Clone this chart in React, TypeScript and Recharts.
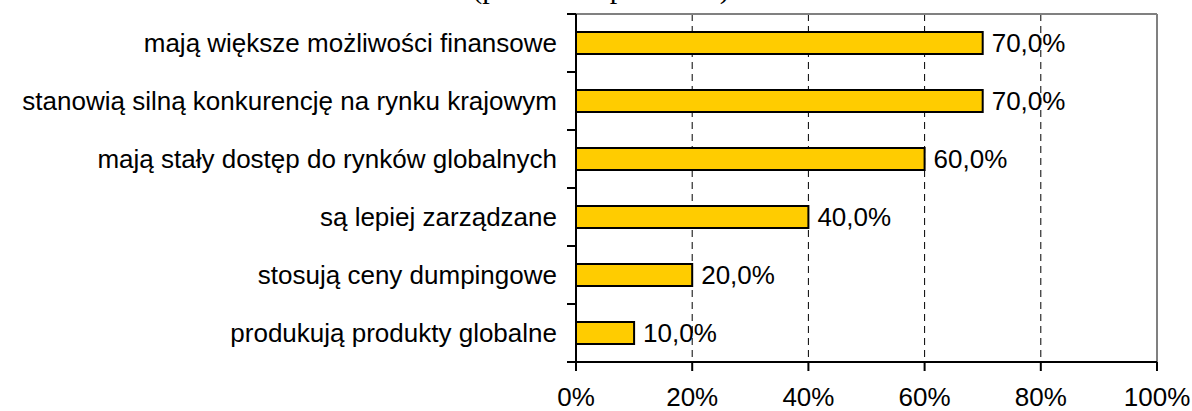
import { Bar, BarChart, CartesianGrid, LabelList, ReferenceLine, XAxis, YAxis } from "recharts";

const categories = [
  "mają większe możliwości finansowe",
  "stanowią silną konkurencję na rynku krajowym",
  "mają stały dostęp do rynków globalnych",
  "są lepiej zarządzane",
  "stosują ceny dumpingowe",
  "produkują produkty globalne",
];
const shares = [70, 70, 60, 40, 20, 10];
const xTicks = [0, 20, 40, 60, 80, 100];
const title = "(procent odpowiedzi)";

const data = categories.map((name, i) => ({ name, value: shares[i] }));

const W = 1192;
const H = 411;
const PLOT_LEFT = 576;
const PLOT_TOP = 14;
const PLOT_BOTTOM = 362;
const BAND = (PLOT_BOTTOM - PLOT_TOP) / categories.length;
const FONT = "'Liberation Sans', Arial, sans-serif";
const FS = 26;

function CategoryTick(props: any) {
  const { y, payload, index } = props;
  return (
    <g>
      <line x1={PLOT_LEFT - 9} x2={PLOT_LEFT} y1={y - BAND / 2} y2={y - BAND / 2} stroke="#000" strokeWidth={2} />
      {index === categories.length - 1 && (
        <line x1={PLOT_LEFT - 9} x2={PLOT_LEFT} y1={y + BAND / 2} y2={y + BAND / 2} stroke="#000" strokeWidth={2} />
      )}
      <text x={PLOT_LEFT - 19} y={y} dy="0.36em" textAnchor="end" fontSize={FS} fontFamily={FONT} fill="#000">
        {payload.value}
      </text>
    </g>
  );
}

export default function App() {
  return (
    <div style={{ position: "absolute", left: 0, top: 0, width: W, height: H, background: "#fff", overflow: "hidden" }}>
      <svg width={W} height={H} style={{ position: "absolute", left: 0, top: 0, pointerEvents: "none" }}>
        <text x={601} y={-2} textAnchor="middle" fontSize={30} fontFamily="'Liberation Serif', 'Times New Roman', serif" fill="#000">
          {title}
        </text>
      </svg>
      <BarChart
        width={W}
        height={H}
        data={data}
        layout="vertical"
        margin={{ top: PLOT_TOP, right: 35, bottom: 0, left: 0 }}
      >
        <CartesianGrid
          horizontal={false}
          stroke="#000"
          strokeDasharray="7 5"
          strokeWidth={1}
        />
        <XAxis
          type="number"
          domain={[0, 100]}
          ticks={xTicks}
          tickFormatter={(v: number) => `${v}%`}
          height={H - PLOT_BOTTOM}
          axisLine={{ stroke: "#000", strokeWidth: 2 }}
          tickLine={{ stroke: "#000", strokeWidth: 2 }}
          tickSize={9}
          tickMargin={17}
          tick={{ fontSize: FS, fontFamily: FONT, fill: "#000" }}
          interval={0}
        />
        <YAxis
          type="category"
          dataKey="name"
          width={PLOT_LEFT}
          axisLine={{ stroke: "#000", strokeWidth: 2 }}
          tickLine={false}
          tick={<CategoryTick />}
          interval={0}
        />
        <ReferenceLine x={100} stroke="#808080" strokeWidth={2} />
        <ReferenceLine y={categories[0]} position="start" stroke="#808080" strokeWidth={2} />
        <Bar
          dataKey="value"
          fill="#FFCC00"
          stroke="#000"
          strokeWidth={2}
          barSize={22}
          isAnimationActive={false}
        >
          <LabelList
            dataKey="value"
            position="right"
            offset={9}
            formatter={(v: number) => `${v.toFixed(1).replace(".", ",")}%`}
            style={{ fontSize: FS, fontFamily: FONT, fill: "#000" }}
          />
        </Bar>
      </BarChart>
    </div>
  );
}
